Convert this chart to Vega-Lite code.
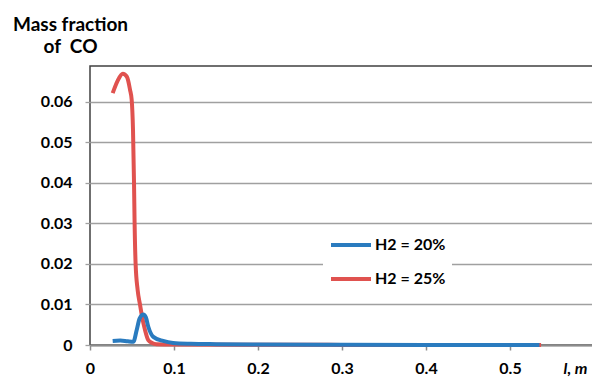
{
  "$schema": "https://vega.github.io/schema/vega-lite/v6.json",
  "width": 504,
  "height": 279,
  "autosize": {"type": "none"},
  "padding": {"left": 90, "top": 66, "right": 0, "bottom": 33},
  "background": "white",
  "config": {
    "font": "Lato",
    "view": {"stroke": "#404040", "strokeWidth": 1.5},
    "axis": {"labelFont": "Lato", "labelFontWeight": "bold", "labelFontSize": 16, "labelColor": "#000000", "titleFont": "Lato", "titleFontWeight": "bold", "titleColor": "#000000"}
  },
  "data": {
    "values": [
      {"l": 0.027, "co": 0.0621, "s": "H2 = 25%"},
      {"l": 0.033, "co": 0.0652, "s": "H2 = 25%"},
      {"l": 0.039, "co": 0.0669, "s": "H2 = 25%"},
      {"l": 0.044, "co": 0.0661, "s": "H2 = 25%"},
      {"l": 0.0476, "co": 0.0630, "s": "H2 = 25%"},
      {"l": 0.0496, "co": 0.0605, "s": "H2 = 25%"},
      {"l": 0.0512, "co": 0.0530, "s": "H2 = 25%"},
      {"l": 0.0524, "co": 0.0400, "s": "H2 = 25%"},
      {"l": 0.0531, "co": 0.0300, "s": "H2 = 25%"},
      {"l": 0.0543, "co": 0.0200, "s": "H2 = 25%"},
      {"l": 0.0567, "co": 0.0136, "s": "H2 = 25%"},
      {"l": 0.0595, "co": 0.0100, "s": "H2 = 25%"},
      {"l": 0.0620, "co": 0.0070, "s": "H2 = 25%"},
      {"l": 0.0655, "co": 0.0037, "s": "H2 = 25%"},
      {"l": 0.0694, "co": 0.0012, "s": "H2 = 25%"},
      {"l": 0.074, "co": 0.0005, "s": "H2 = 25%"},
      {"l": 0.079, "co": 0.0002, "s": "H2 = 25%"},
      {"l": 0.1, "co": 0.0001, "s": "H2 = 25%"},
      {"l": 0.2, "co": 0.00005, "s": "H2 = 25%"},
      {"l": 0.3, "co": 0.00003, "s": "H2 = 25%"},
      {"l": 0.4, "co": 0.00002, "s": "H2 = 25%"},
      {"l": 0.537, "co": 0.00001, "s": "H2 = 25%"},
      {"l": 0.027, "co": 0.0010, "s": "H2 = 20%"},
      {"l": 0.036, "co": 0.0011, "s": "H2 = 20%"},
      {"l": 0.045, "co": 0.0009, "s": "H2 = 20%"},
      {"l": 0.0516, "co": 0.0008, "s": "H2 = 20%"},
      {"l": 0.0556, "co": 0.0037, "s": "H2 = 20%"},
      {"l": 0.059, "co": 0.0065, "s": "H2 = 20%"},
      {"l": 0.0635, "co": 0.0075, "s": "H2 = 20%"},
      {"l": 0.0665, "co": 0.0068, "s": "H2 = 20%"},
      {"l": 0.0694, "co": 0.0045, "s": "H2 = 20%"},
      {"l": 0.0754, "co": 0.0020, "s": "H2 = 20%"},
      {"l": 0.087, "co": 0.0010, "s": "H2 = 20%"},
      {"l": 0.099, "co": 0.0005, "s": "H2 = 20%"},
      {"l": 0.12, "co": 0.0003, "s": "H2 = 20%"},
      {"l": 0.15, "co": 0.0002, "s": "H2 = 20%"},
      {"l": 0.2, "co": 0.00012, "s": "H2 = 20%"},
      {"l": 0.3, "co": 0.00006, "s": "H2 = 20%"},
      {"l": 0.4, "co": 0.00003, "s": "H2 = 20%"},
      {"l": 0.535, "co": 0.00002, "s": "H2 = 20%"}
    ]
  },
  "mark": {"type": "line", "interpolate": "monotone", "strokeWidth": 4},
  "encoding": {
    "x": {
      "field": "l", "type": "quantitative",
      "scale": {"domain": [0, 0.6], "nice": false, "zero": false},
      "axis": {
        "values": [0, 0.1, 0.2, 0.3, 0.4, 0.5], "format": "~g",
        "grid": false, "domainColor": "#8c8c8c", "domainWidth": 2,
        "tickColor": "#8c8c8c", "tickSize": 5, "tickWidth": 1.5,
        "labelPadding": 10, "labelFlush": false,
        "title": "l, m", "titleFontSize": 16, "titleFontStyle": "italic", "titleX": 485, "titleY": 28,
        "titleAlign": "center", "titleBaseline": "alphabetic"
      }
    },
    "y": {
      "field": "co", "type": "quantitative",
      "scale": {"domain": [0, 0.0688], "nice": false},
      "axis": {
        "values": [0, 0.01, 0.02, 0.03, 0.04, 0.05, 0.06], "format": "~g",
        "grid": true, "gridColor": "#a0a0a0", "gridWidth": 1.3,
        "domain": false, "tickColor": "#a0a0a0", "tickSize": 5, "tickWidth": 1.3,
        "labelPadding": 13, "labelFlush": false,
        "title": ["Mass fraction", "of\u00a0\u00a0CO"], "titleFontSize": 19, "titleLineHeight": 22,
        "titleAngle": 0, "titleX": -20, "titleY": -36,
        "titleAlign": "center", "titleBaseline": "alphabetic"
      }
    },
    "color": {
      "field": "s", "type": "nominal",
      "scale": {"domain": ["H2 = 20%", "H2 = 25%"], "range": ["#2a7bbf", "#e0524f"]},
      "legend": {
        "title": null, "orient": "none", "legendX": 233, "legendY": 161,
        "fillColor": "white", "padding": 6,
        "symbolType": "M-1,0H3", "symbolSize": 400, "symbolStrokeWidth": 4,
        "labelFont": "Lato", "labelFontWeight": "bold", "labelFontSize": 16,
        "labelColor": "#000000", "labelOffset": 22, "rowPadding": 14
      }
    }
  }
}
